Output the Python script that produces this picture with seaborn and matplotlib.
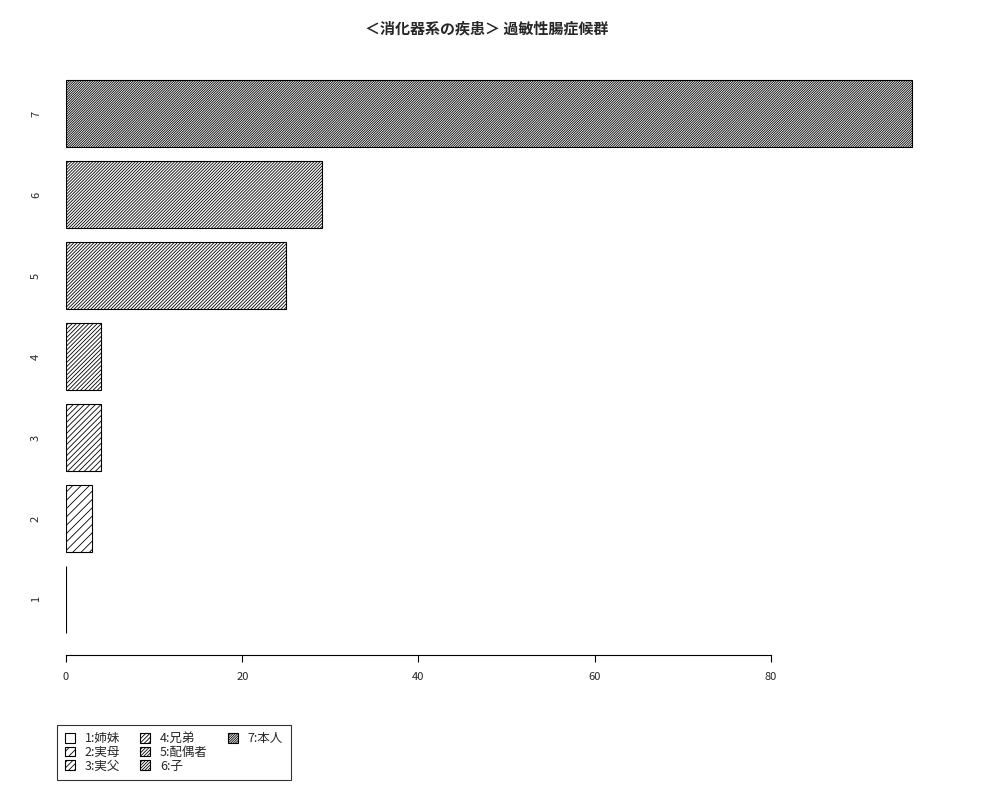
import matplotlib
matplotlib.use("Agg")
import matplotlib.pyplot as plt
import matplotlib.patches as mpatches
import seaborn as sns
import pandas as pd

# データ
categories = ["1", "2", "3", "4", "5", "6", "7"]
values = [0, 3, 4, 4, 25, 29, 96]
legend_labels = ["1:姉妹", "2:実母", "3:実父", "4:兄弟", "5:配偶者", "6:子", "7:本人"]
hatches = ["", "/" * 4, "/" * 6, "/" * 8, "/" * 10, "/" * 11, "/" * 14]
title = "＜消化器系の疾患＞ 過敏性腸症候群"

sns.set_theme(style="white")
plt.rcParams["font.family"] = ["Noto Sans CJK JP", "DejaVu Sans"]
plt.rcParams["hatch.linewidth"] = 0.6

df = pd.DataFrame({"cat": categories, "val": values})
order = categories[::-1]

fig = plt.figure(figsize=(10, 8), dpi=100)
ax = fig.add_axes([0.066, 0.18125, 0.88125, 0.747])

sns.barplot(data=df, x="val", y="cat", order=order, orient="h",
            color="white", edgecolor="black", linewidth=0.8,
            width=1 / 1.2, ax=ax)

hatch_map = dict(zip(categories, hatches))
for patch, cat in zip(ax.patches, order):
    patch.set_hatch(hatch_map[cat])
    patch.set_facecolor("white")
    patch.set_edgecolor("black")

ax.set_xlim(0, 100)
ax.set_ylim(6.688, -0.696)
ax.set_xlabel("")
ax.set_ylabel("")

for s in ["top", "right", "left"]:
    ax.spines[s].set_visible(False)
ax.spines["bottom"].set_bounds(0, 80)
ax.spines["bottom"].set_color("black")
ax.spines["bottom"].set_linewidth(0.8)

ax.set_xticks([0, 20, 40, 60, 80])
ax.tick_params(axis="x", bottom=True, length=5, width=0.8, color="black",
               pad=7, labelsize=8)
ax.tick_params(axis="y", length=0, pad=18, labelsize=8)
for lab in ax.get_yticklabels():
    lab.set_rotation(90)
    lab.set_va("center")

fig.text(0.487, 0.965, title, ha="center", va="center",
         fontsize=10.8, fontweight="bold")

# 凡例（列優先で 3 行に並べる）
handles = [mpatches.Patch(facecolor="white", edgecolor="black",
                          hatch=h, linewidth=0.8) for h in hatches]
labels = list(legend_labels)
for _ in range(2):
    handles.append(mpatches.Patch(visible=False))
    labels.append("")
leg = fig.legend(handles, labels, ncol=3, loc="upper left",
                 bbox_to_anchor=(0.057, 0.094), fontsize=9,
                 frameon=True, fancybox=False, edgecolor="black",
                 handlelength=0.8, handleheight=0.8, handletextpad=0.8,
                 columnspacing=1.6, labelspacing=0.05, borderpad=0.6,
                 borderaxespad=0)
leg.get_frame().set_linewidth(0.8)

fig.savefig("out.png", dpi=100, facecolor="white")
